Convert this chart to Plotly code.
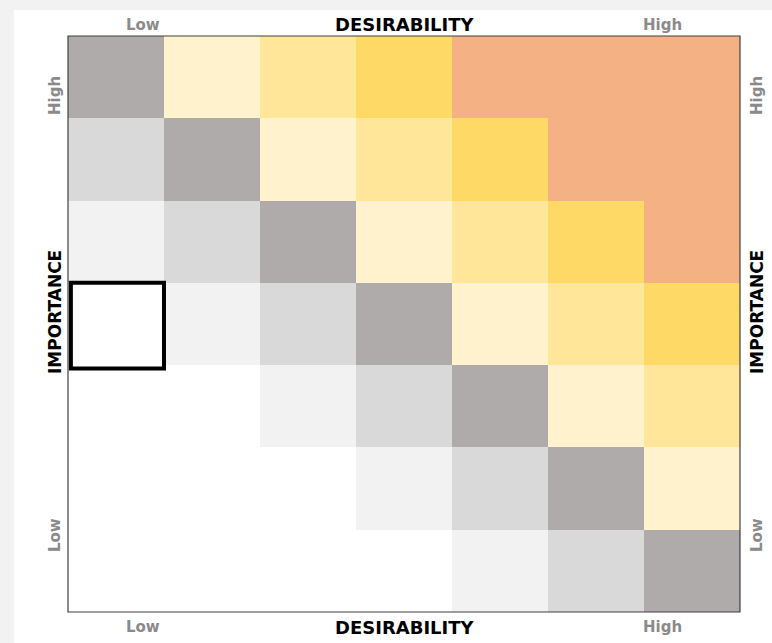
import plotly.graph_objects as go

# Desirability (columns, Low -> High) and Importance (rows, High -> Low)
desirability = ["D1", "D2", "D3", "D4", "D5", "D6", "D7"]
importance = ["I7", "I6", "I5", "I4", "I3", "I2", "I1"]

# level codes per cell, top row = High importance
row_i7 = [3, 4, 5, 6, 7, 7, 7]
row_i6 = [2, 3, 4, 5, 6, 7, 7]
row_i5 = [1, 2, 3, 4, 5, 6, 7]
row_i4 = [0, 1, 2, 3, 4, 5, 6]
row_i3 = [0, 0, 1, 2, 3, 4, 5]
row_i2 = [0, 0, 0, 1, 2, 3, 4]
row_i1 = [0, 0, 0, 0, 1, 2, 3]
levels = [row_i7, row_i6, row_i5, row_i4, row_i3, row_i2, row_i1]

level_colors = ["#FFFFFF", "#F2F2F2", "#D9D9D9", "#AFABAB",
                "#FFF2CC", "#FFE699", "#FFD966", "#F4B183"]

n = len(level_colors)
colorscale = []
for k, c in enumerate(level_colors):
    colorscale.append([k / n, c])
    colorscale.append([(k + 1) / n, c])

W, H = 772, 643
L, R, T, B = 68, 32, 36, 31
PW, PH = W - L - R, H - T - B

def px(xp):
    return (xp - L) / PW

def py(yp):
    return (H - B - yp) / PH

fig = go.Figure(go.Heatmap(
    z=levels, x=desirability, y=importance,
    colorscale=colorscale, zmin=0, zmax=n, showscale=False,
    hoverinfo="skip",
))

grey = "#8A8A8A"
lab_font = dict(family="DejaVu Sans", size=15, color=grey)
title_font = dict(family="DejaVu Sans", size=18, color="#000000")
vtitle_font = dict(family="DejaVu Sans", size=17, color="#000000")

ann = []
for yy in (25, 627):
    ann.append(dict(x=px(143), y=py(yy), text="<b>Low</b>", font=lab_font))
    ann.append(dict(x=px(662), y=py(yy), text="<b>High</b>", font=lab_font))
    ann.append(dict(x=px(405), y=py(yy), text="<b>DESIRABILITY</b>", font=title_font))
for xx in (55, 757):
    ann.append(dict(x=px(xx), y=py(96), text="<b>High</b>", font=lab_font, textangle=-90))
    ann.append(dict(x=px(xx), y=py(535), text="<b>Low</b>", font=lab_font, textangle=-90))
    ann.append(dict(x=px(xx), y=py(312), text="<b>IMPORTANCE</b>", font=vtitle_font, textangle=-90))
for a in ann:
    a.update(xref="paper", yref="paper", showarrow=False, xanchor="center", yanchor="middle")

shapes = [
    dict(type="rect", xref="paper", yref="paper", x0=px(14), x1=px(W + 5),
         y0=py(10), y1=py(H + 5), fillcolor="#FFFFFF", line=dict(width=0), layer="below"),
    dict(type="rect", xref="paper", yref="paper", x0=0, x1=1, y0=0, y1=1,
         line=dict(color="#404040", width=1.2)),
    dict(type="rect", xref="x", yref="y", x0=-0.47, x1=0.5, y0=2.5, y1=3.54,
         line=dict(color="#000000", width=4)),
]

fig.update_layout(
    width=W, height=H,
    margin=dict(l=L, r=R, t=T, b=B),
    paper_bgcolor="#F2F2F2", plot_bgcolor="#FFFFFF",
    xaxis=dict(visible=False, range=[-0.5, 6.5]),
    yaxis=dict(visible=False, autorange="reversed"),
    annotations=ann, shapes=shapes,
)

fig.write_html("out.html", config={"displayModeBar": False},
               post_script="document.body.style.margin='0';document.body.style.overflow='hidden';")
